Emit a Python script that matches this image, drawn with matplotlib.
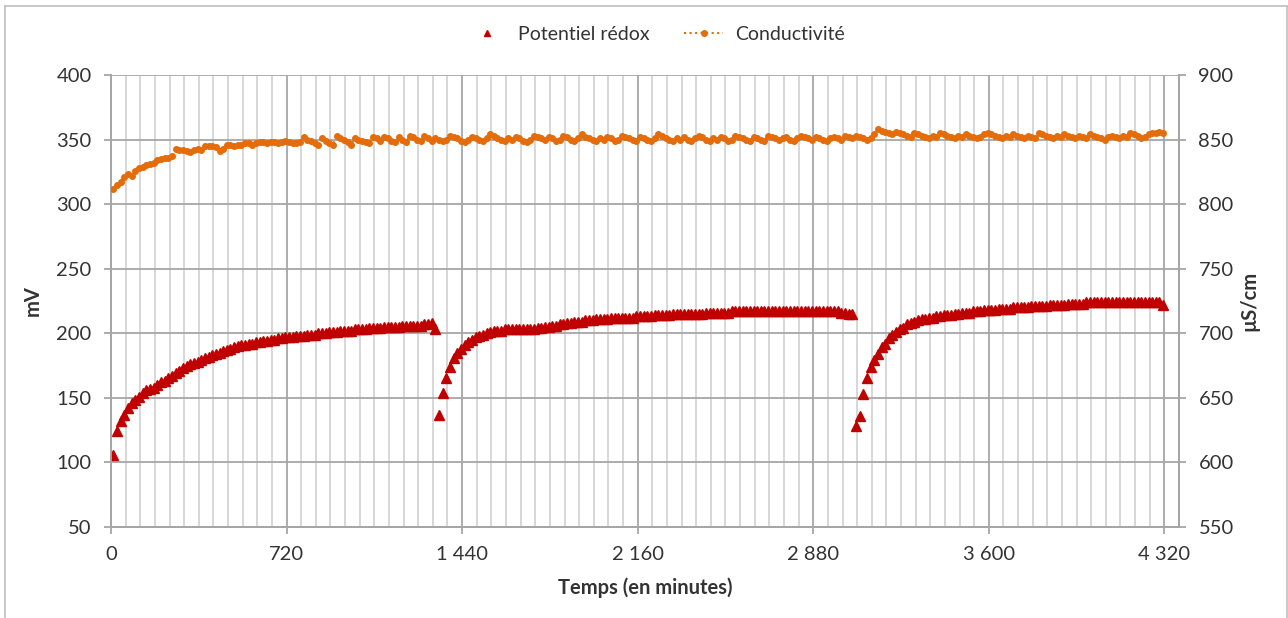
import numpy as np
import matplotlib.pyplot as plt
from matplotlib.lines import Line2D
from matplotlib.ticker import MultipleLocator, FixedLocator

plt.rcParams['font.family'] = ['Lato', 'DejaVu Sans']

# mesures toutes les 15 minutes, à partir de t = 10 min
t0, dt = 10, 15

# potentiel rédox (mV)
redox = [
    # phase 1
    106, 124, 132, 137, 142, 146, 148, 151, 154, 156,
    157, 158, 160, 162, 163, 165, 167, 169, 171, 173,
    175, 176, 177, 178, 179, 181, 182, 183, 184, 185,
    186, 187, 188, 189, 190, 191, 191, 192, 192, 193,
    193, 194, 194, 195, 195, 196, 196, 197, 197, 197,
    198, 198, 198, 199, 199, 199, 200, 200, 200, 201,
    201, 201, 202, 202, 202, 202, 203, 203, 203, 203,
    204, 204, 204, 204, 205, 205, 205, 205, 205, 206,
    206, 206, 206, 206, 206, 207, 207, 208, 203,
    # phase 2
    137, 154, 165, 174, 181, 185, 188, 191, 193, 195,
    197, 198, 199, 200, 201, 202, 202, 202, 203, 203,
    203, 203, 203, 203, 203, 203, 203, 204, 204, 205,
    205, 206, 206, 207, 207, 208, 208, 209, 209, 209,
    210, 210, 210, 211, 211, 211, 211, 212, 212, 212,
    212, 212, 212, 212, 213, 213, 213, 213, 213, 214,
    214, 214, 214, 214, 215, 215, 215, 215, 215, 215,
    215, 215, 215, 216, 216, 216, 216, 216, 216, 216,
    217, 217, 217, 217, 217, 217, 217, 217, 217, 217,
    217, 217, 217, 217, 217, 217, 217, 217, 217, 217,
    217, 217, 217, 217, 217, 217, 217, 217, 217, 217,
    216, 216, 215, 215,
    # phase 3
    128, 136, 153, 165, 174, 179, 184, 189, 192, 196,
    199, 201, 203, 204, 207, 208, 209, 210, 211, 211,
    212, 212, 213, 213, 214, 214, 214, 215, 215, 216,
    216, 216, 217, 217, 217, 218, 218, 218, 218, 219,
    219, 219, 219, 220, 220, 220, 220, 220, 221, 221,
    221, 221, 221, 222, 222, 222, 222, 222, 223, 223,
    223, 223, 223, 224, 224, 224, 224, 224, 224, 224,
    224, 224, 224, 224, 224, 224, 224, 224, 224, 224,
    224, 224, 224, 224, 222,
]

# conductivité (µS/cm)
conduct = [
    812, 815, 817, 821, 823, 822, 826, 828, 829, 830,
    831, 832, 834, 835, 836, 836, 837,
    843, 842, 842, 841, 840, 842, 843, 842, 845, 845,
    845, 844, 841, 843, 846, 846, 845, 846, 846, 847,
    847, 846, 847, 848, 848, 847, 848, 848, 847, 848,
    849, 848, 847, 847, 848, 852,
    850, 849, 847, 846, 851, 849, 847, 846, 853, 851,
    850, 848, 846, 851, 850, 849, 848, 847, 852, 851,
    849, 852, 851, 849, 848, 852, 850, 848, 853, 852,
    850, 849, 853, 851, 849,
    851, 850, 849, 850, 853, 852, 851, 849, 848, 850,
    852, 851, 850, 849, 851, 854, 853, 851, 850, 849,
    851, 850, 852, 851, 849, 848, 850, 853, 852, 851,
    850, 852, 851, 849, 850, 853, 852, 850, 849, 851,
    854, 852, 851, 850, 849, 851, 850, 852, 851, 849,
    850, 853, 852, 851, 850, 849, 852, 851, 850, 849,
    851, 854, 853, 851, 850, 849, 851, 850, 852, 850,
    849, 851, 853, 852, 850, 849, 851, 850, 852, 851,
    849, 850, 853, 852, 851, 850, 849, 852, 851, 850,
    849, 853, 852, 851, 850, 851, 852, 850, 849, 851,
    853, 852, 851, 850, 852, 851, 850, 849, 851, 852,
    851, 850, 853, 852, 851,
    853, 852, 851, 850, 851, 854, 858, 857, 856, 855,
    854, 856, 855, 854, 853, 852, 855, 854, 853, 852,
    851, 853, 852, 855, 854, 853, 852, 851, 853, 852,
    854, 853, 852, 851, 852, 854, 855, 854, 853, 852,
    851, 853, 852, 854, 853, 852, 851, 853, 852, 851,
    855, 854, 853, 852, 851, 853, 852, 854, 853, 852,
    851, 853, 852, 851, 854, 853, 852, 851, 850, 852,
    853, 852, 851, 853, 852, 855, 854, 853, 851, 852,
    854, 855, 855, 856, 855,
]

x_ticks = [0, 720, 1440, 2160, 2880, 3600, 4320]
x_labels = ['0', '720', '1 440', '2 160', '2 880', '3 600', '4 320']

t_redox = t0 + dt * np.arange(len(redox))
t_cond = t0 + dt * np.arange(len(conduct))

grid_c = '#A6A6A6'
text_c = '#333333'
fs = 14.5

fig = plt.figure(figsize=(12.88, 6.18), dpi=100)
ax = fig.add_axes([111 / 1288, 1 - 527 / 618, (1179 - 111) / 1288, (527 - 75) / 618])
ax2 = ax.twinx()

ax.plot(t_redox, redox, linestyle='none', marker='^', markersize=6.5,
        color='#C00000', label='Potentiel rédox', zorder=3)
ax2.plot(t_cond, conduct, linestyle=':', linewidth=1.5, marker='o', markersize=4,
         color='#E46C0A', label='Conductivité', zorder=3)

ax.set_xlim(0, 4380)
ax.set_ylim(50, 400)
ax2.set_ylim(550, 900)
ax.yaxis.set_major_locator(MultipleLocator(50))
ax2.yaxis.set_major_locator(MultipleLocator(50))
ax.set_xticks(x_ticks)
ax.set_xticklabels(x_labels)
ax.xaxis.set_minor_locator(FixedLocator(np.arange(0, 4321, 60)))

ax.grid(which='minor', axis='x', color='#D4D4D4', linewidth=1.3)
ax.grid(which='major', axis='x', color=grid_c, linewidth=1.3)
ax.grid(which='major', axis='y', color=grid_c, linewidth=1.3)
ax.set_axisbelow(True)

for a in (ax, ax2):
    for s in a.spines.values():
        s.set_color(grid_c)
        s.set_linewidth(1.3)
ax.spines['top'].set_visible(False)
ax2.spines['top'].set_visible(False)

ax.tick_params(axis='both', which='major', length=5, color=grid_c, width=1.3,
               labelsize=fs, labelcolor=text_c, pad=9)
ax.tick_params(axis='x', which='minor', length=0)
ax2.tick_params(axis='y', length=5, color=grid_c, width=1.3,
                labelsize=fs, labelcolor=text_c, pad=9)

ax.set_xlabel('Temps (en minutes)', fontsize=fs, fontweight='bold', color=text_c, labelpad=10)
ax.set_ylabel('mV', fontsize=fs, fontweight='bold', color=text_c, labelpad=10)
ax2.set_ylabel('µS/cm', fontsize=fs, fontweight='bold', color=text_c, labelpad=4)

h1, l1 = ax.get_legend_handles_labels()
h2, l2 = ax2.get_legend_handles_labels()
leg = fig.legend(h1 + h2, l1 + l2, loc='center', ncol=2, frameon=False,
                 bbox_to_anchor=(656 / 1288, 1 - 34 / 618), fontsize=14,
                 handlelength=2.0, columnspacing=1.8, handletextpad=0.6)
for txt in leg.get_texts():
    txt.set_color(text_c)
leg.legend_handles[0].set_markersize(4)

# cadre du graphique
W, H = 1288, 618
for xs, ys in [((5, 5), (0, 612)), ((5, 1287), (612, 612)), ((1287, 1287), (0, 612))]:
    fig.add_artist(Line2D([x / W for x in xs], [y / H for y in ys],
                          color='#BFBFBF', linewidth=1.2))

fig.savefig('out.png', dpi=100)
